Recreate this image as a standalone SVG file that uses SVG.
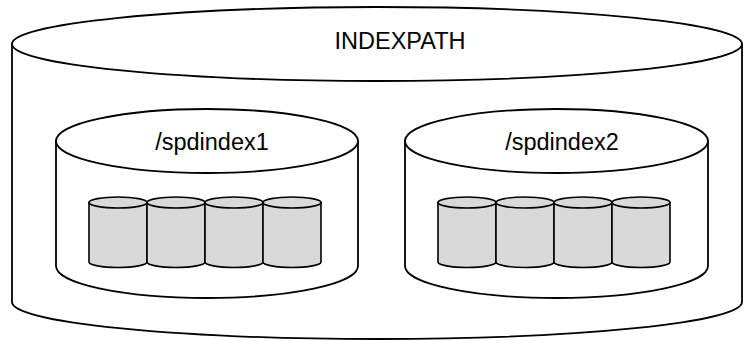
<svg xmlns="http://www.w3.org/2000/svg" width="744" height="341" viewBox="0 0 744 341">
<style>
.line{stroke:#000;stroke-width:1.8;fill:#fff}
.disk{stroke:#000;stroke-width:1.6;fill:#d9d9d9}
.lbl{font-family:"Liberation Sans",Arial,sans-serif;font-size:23.5px;fill:#000;text-anchor:middle}
</style>
<defs>
<g id="disk">
<path class="disk" d="M0,0 V59.5 A29,5.5 0 0 0 58,59.5 V0 Z"/>
<ellipse class="disk" cx="29" cy="0" rx="29" ry="5.5"/>
</g>
</defs>
<g id="indexpath">
<path class="line" d="M12,44 V302 A365,37 0 0 0 742,302 V44 Z"/>
<ellipse class="line" cx="377" cy="44" rx="365" ry="37"/>
<text class="lbl" x="400" y="49">INDEXPATH</text>
</g>
<g id="spdindex1">
<path class="line" d="M56,141 V266 A151,32 0 0 0 358,266 V141 Z"/>
<ellipse class="line" cx="207" cy="141" rx="151" ry="32"/>
<text class="lbl" x="212" y="150">/spdindex1</text>
<use href="#disk" x="89" y="202.5"/>
<use href="#disk" x="147" y="202.5"/>
<use href="#disk" x="205" y="202.5"/>
<use href="#disk" x="263" y="202.5"/>
</g>
<g id="spdindex2">
<path class="line" d="M405,141 V266 A151.5,32 0 0 0 708,266 V141 Z"/>
<ellipse class="line" cx="556.5" cy="141" rx="151.5" ry="32"/>
<text class="lbl" x="562" y="150">/spdindex2</text>
<use href="#disk" x="438" y="202.5"/>
<use href="#disk" x="496" y="202.5"/>
<use href="#disk" x="554" y="202.5"/>
<use href="#disk" x="612" y="202.5"/>
</g>
<g id="connectors"></g>
</svg>
